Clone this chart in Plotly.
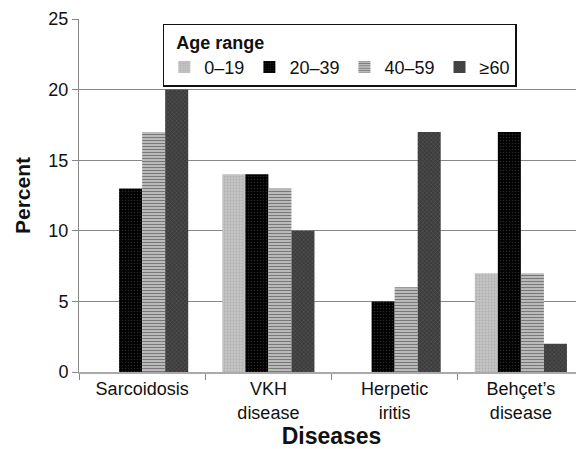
import plotly.graph_objects as go

categories = ["Sarcoidosis", "VKH<br>disease", "Herpetic<br>iritis", "Behçet’s<br>disease"]
series_names = ["0–19", "20–39", "40–59", "≥60"]
v_0_19 = [0, 14, 0, 7]
v_20_39 = [13, 14, 5, 17]
v_40_59 = [17, 13, 6, 7]
v_60 = [20, 10, 17, 2]
y_ticks = [0, 5, 10, 15, 20, 25]

styles = [
    dict(bgcolor="#c4c4c4", fgcolor="#9a9a9a", shape=".", size=3, solidity=0.3),
    dict(bgcolor="#000000", fgcolor="#555555", shape=".", size=3, solidity=0.2),
    dict(bgcolor="#d0d0d0", fgcolor="#202020", shape="-", size=3, solidity=0.5),
    dict(bgcolor="#3c3c3c", fgcolor="#7a7a7a", shape="x", size=3, solidity=0.3),
]

fig = go.Figure()
for name, vals, st in zip(series_names, [v_0_19, v_20_39, v_40_59, v_60], styles):
    fig.add_trace(go.Bar(
        x=categories, y=vals, name=name,
        marker=dict(color=st["bgcolor"], line=dict(width=0),
                    pattern=dict(shape=st["shape"], fgcolor=st["fgcolor"],
                                 bgcolor=st["bgcolor"], size=st["size"],
                                 solidity=st["solidity"], fillmode="overlay")),
    ))

fig.update_layout(
    width=576, height=441,
    barmode="group", bargap=0.27, bargroupgap=0,
    plot_bgcolor="white", paper_bgcolor="white",
    margin=dict(l=71, r=0, t=11, b=77),
    font=dict(family="Liberation Sans, Arial, sans-serif", size=18, color="#111"),
    legend=dict(
        orientation="h", x=0.166, y=0.986, xanchor="left", yanchor="top",
        title=dict(text="\u00a0\u00a0<b>Age range</b>", side="top", font=dict(size=18)),
        bordercolor="#111", borderwidth=1.5, bgcolor="white",
        font=dict(size=18), itemwidth=30, tracegroupgap=0,
    ),
    xaxis=dict(
        title=dict(text="<b>Diseases</b>", font=dict(size=23), standoff=4),
        showline=True, linecolor="#aaaaaa", linewidth=1.5,
        ticks="outside", tickson="boundaries", ticklen=6, tickcolor="#888",
        tickfont=dict(size=18), tickangle=0, automargin=False,
    ),
    yaxis=dict(
        title=dict(text="<b>Percent</b>", font=dict(size=21), standoff=12),
        range=[0, 25], tickvals=y_ticks,
        showline=True, linecolor="#888", linewidth=1,
        showgrid=True, gridcolor="#888", gridwidth=1,
        ticks="outside", ticklen=6, tickcolor="#888",
        tickfont=dict(size=18), zeroline=False, automargin=False,
    ),
)

fig.write_html("out.html")
